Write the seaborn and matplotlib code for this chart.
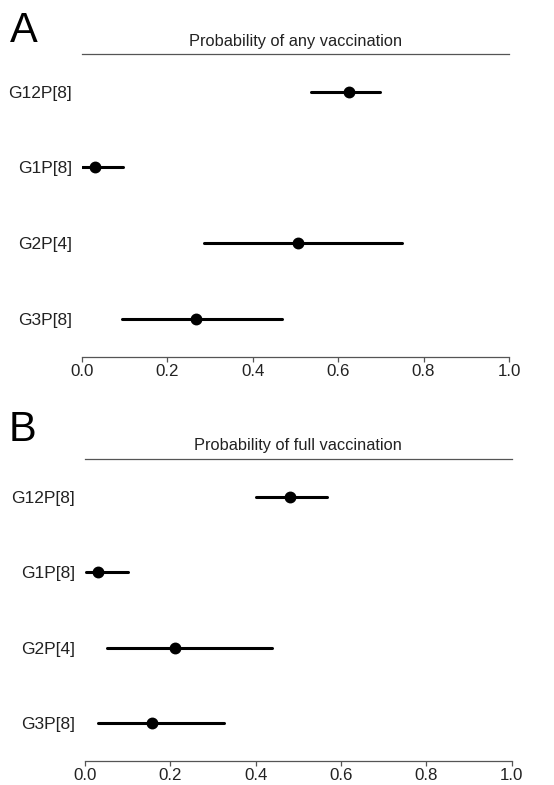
import numpy as np
import pandas as pd
import matplotlib
matplotlib.use("Agg")
import matplotlib.pyplot as plt
import seaborn as sns

genotypes = ["G12P[8]", "G1P[8]", "G2P[4]", "G3P[8]"]

any_est = [0.626, 0.031, 0.506, 0.268]
any_lo = [0.536, 0.000, 0.286, 0.094]
any_hi = [0.699, 0.097, 0.749, 0.468]

full_est = [0.481, 0.030, 0.212, 0.156]
full_lo = [0.400, 0.002, 0.052, 0.031]
full_hi = [0.566, 0.100, 0.439, 0.326]

x_ticks = [0.0, 0.2, 0.4, 0.6, 0.8, 1.0]
titles = ["Probability of any vaccination", "Probability of full vaccination"]
panel_labels = ["A", "B"]

sns.set_style("white")
plt.rcParams["font.family"] = ["Liberation Sans", "DejaVu Sans"]


def long_frame(est, lo, hi):
    rows = []
    for g, e, l, h in zip(genotypes, est, lo, hi):
        for v in (l, e, h):
            rows.append({"genotype": g, "value": v})
    return pd.DataFrame(rows)


W, H = 554, 785
fig = plt.figure(figsize=(W / 100, H / 100), dpi=100)

axes_px = [
    (81.7, 509.0, 54.0, 356.5),
    (85.0, 511.7, 458.7, 761.2),
]
label_pos = [(10, 30.5), (9, 430)]
data = [(any_est, any_lo, any_hi), (full_est, full_lo, full_hi)]

for (x0, x1, ytop, ybot), (lx, ly), (est, lo, hi), title, lab in zip(
        axes_px, label_pos, data, titles, panel_labels):
    ax = fig.add_axes([x0 / W, 1 - ybot / H, (x1 - x0) / W, (ybot - ytop) / H])
    df = long_frame(est, lo, hi)
    sns.pointplot(data=df, x="value", y="genotype", order=genotypes,
                  estimator="median", errorbar=("pi", 100), orient="h",
                  color="black", linestyle="none", marker="o",
                  markersize=6.5, err_kws={"linewidth": 2.2}, capsize=0,
                  ax=ax)
    ax.set_xlim(0, 1)
    ax.set_ylim(3.5, -0.5)
    ax.set_xticks(x_ticks)
    ax.set_xticklabels([f"{t:.1f}" for t in x_ticks])
    ax.set_xlabel("")
    ax.set_ylabel("")
    for s in ["left", "right"]:
        ax.spines[s].set_visible(False)
    for s in ["top", "bottom"]:
        ax.spines[s].set_visible(True)
        ax.spines[s].set_color("#555555")
        ax.spines[s].set_linewidth(0.9)
    ax.tick_params(axis="x", direction="out", length=3.6, width=0.9,
                   color="#555555", pad=1.5, labelsize=12.2, labelcolor="#222222",
                   bottom=True)
    ax.tick_params(axis="y", length=0, pad=7, labelsize=12.5,
                   labelcolor="#222222", left=False)
    ax.set_title(title, fontsize=11.8, color="#222222", pad=6)
    fig.text(lx / W, 1 - ly / H, lab, fontsize=30, ha="left", va="center",
             color="black")

fig.savefig("out.png", dpi=100)
